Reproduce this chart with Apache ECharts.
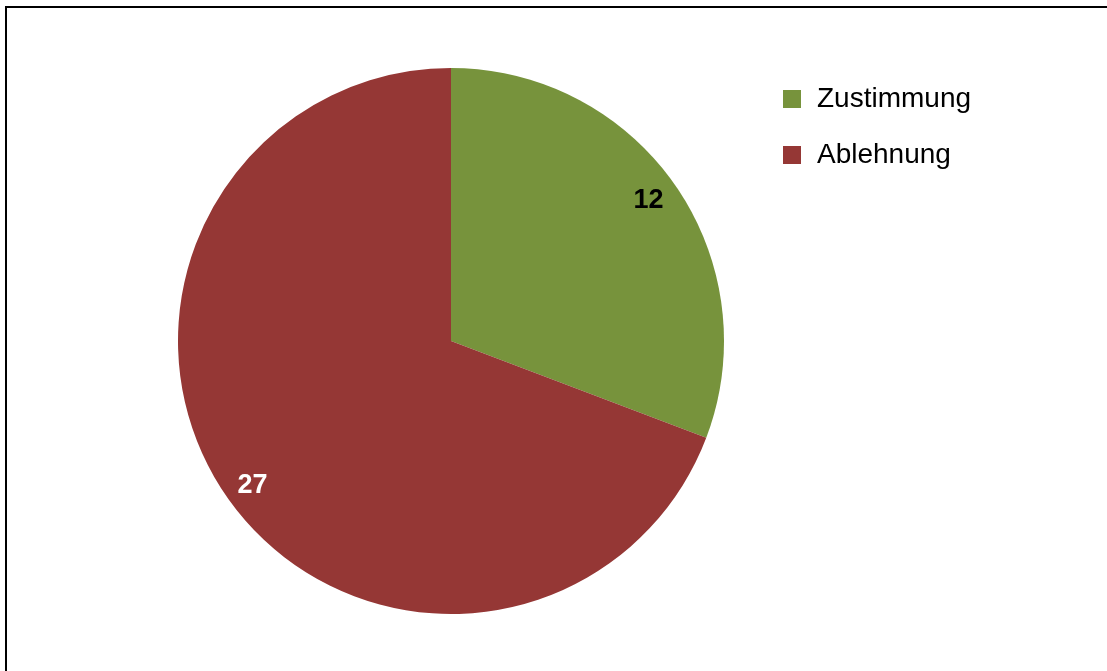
<!DOCTYPE html>
<html>
<head>
<meta charset="utf-8">
<script src="https://cdn.jsdelivr.net/npm/echarts@6/dist/echarts.min.js"></script>
<style>
  html, body { margin: 0; padding: 0; background: #fff; }
  #frame { position: absolute; left: 5px; top: 6px; width: 1200px; height: 800px; border: 2px solid #000; box-sizing: border-box; }
  #chart { position: absolute; left: 0; top: 0; width: 1107px; height: 671px; }
</style>
</head>
<body>
<div id="frame"></div>
<div id="chart"></div>
<script>
const categories = ['Zustimmung', 'Ablehnung'];
const values = [12, 27];
const colors = ['#77933C', '#953735'];
const labelColors = ['#000000', '#ffffff'];

const chart = echarts.init(document.getElementById('chart'), null, { renderer: 'canvas' });
const pieData = categories.map((c, i) => ({ name: c, value: values[i], itemStyle: { color: colors[i] } }));
const labelData = categories.map((c, i) => ({
  name: c, value: values[i],
  itemStyle: { color: 'rgba(0,0,0,0)' },
  label: { color: labelColors[i] }
}));
const labelNudge = [[-5, -1], [4, 5]];

chart.setOption({
  animation: false,
  backgroundColor: 'transparent',
  legend: {
    orient: 'vertical',
    left: 778,
    top: 80,
    icon: 'rect',
    itemWidth: 18,
    itemHeight: 18,
    itemGap: 28,
    data: categories,
    textStyle: { fontFamily: 'Liberation Sans, Arial, sans-serif', fontSize: 28, color: '#000', padding: [0, 0, 0, 11], lineHeight: 26 }
  },
  series: [
    {
      type: 'pie',
      center: [451, 341],
      radius: [0, 273],
      startAngle: 90,
      clockwise: true,
      silent: true,
      label: { show: false },
      labelLine: { show: false },
      itemStyle: { borderWidth: 0 },
      data: pieData
    },
    {
      type: 'pie',
      center: [451, 341],
      radius: [213, 273],
      startAngle: 90,
      clockwise: true,
      silent: true,
      legendHoverLink: false,
      label: {
        show: true,
        position: 'inside',
        formatter: '{c}',
        fontFamily: 'Liberation Sans, Arial, sans-serif',
        fontWeight: 'bold',
        fontSize: 27
      },
      labelLayout: function (p) {
        return { dx: labelNudge[p.dataIndex][0], dy: labelNudge[p.dataIndex][1] };
      },
      labelLine: { show: false },
      itemStyle: { borderWidth: 0 },
      data: labelData
    }
  ]
});
</script>
</body>
</html>
